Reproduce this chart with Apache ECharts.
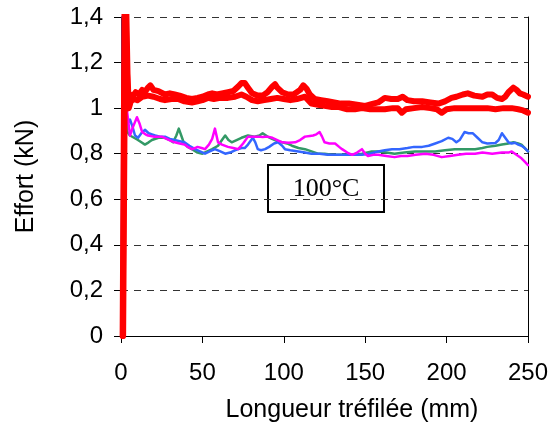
<!DOCTYPE html>
<html>
<head>
<meta charset="utf-8">
<script src="https://cdn.jsdelivr.net/npm/echarts@6/dist/echarts.min.js"></script>
<style>
html,body{margin:0;padding:0;background:#fff;}
#chart{width:556px;height:430px;}
</style>
</head>
<body>
<div id="chart"></div>
<script>
// X ticks and Y tick labels
const xTicks = [0, 50, 100, 150, 200, 250];
const yTickLabels = ['0', '0,2', '0,4', '0,6', '0,8', '1', '1,2', '1,4'];
const annotation = '100°C';

// Series data [longueur (mm), effort (kN)]
const green = [[0.6,0],[1.5,1.6],[3.5,0.9],[5.5,0.88],[8,0.87],[10.4,0.86],[12.5,0.85],[14.7,0.84],[17,0.85],[19,0.86],[23,0.87],[27,0.87],[30,0.86],[32,0.85],[34,0.88],[35.5,0.91],[37,0.88],[38.5,0.85],[41,0.83],[43.6,0.82],[47,0.805],[50,0.80],[53,0.81],[56,0.82],[59.6,0.835],[62,0.86],[64,0.88],[66,0.86],[68,0.85],[71,0.86],[74,0.87],[78,0.88],[82,0.875],[85,0.88],[87,0.89],[90,0.875],[92.8,0.865],[96,0.855],[99,0.85],[102,0.845],[105,0.835],[109,0.825],[113,0.82],[117,0.81],[121,0.80],[125,0.80],[129.6,0.795],[135,0.795],[142,0.795],[148,0.80],[154,0.81],[158,0.81],[163,0.805],[168,0.80],[174,0.805],[180.6,0.81],[187,0.81],[193,0.81],[199,0.815],[205,0.82],[211,0.82],[217.5,0.82],[222,0.825],[225,0.83],[230,0.835],[234,0.84],[238,0.845],[241,0.85],[244,0.845],[246,0.84],[248,0.825],[250,0.81]];

const blue = [[0.3,0],[1.2,1.6],[2.8,1.0],[4,0.93],[5.5,0.95],[7,0.92],[8.6,0.88],[10.5,0.87],[12.5,0.89],[14.7,0.905],[17,0.89],[19,0.885],[21,0.88],[24,0.875],[27,0.875],[30,0.865],[33,0.86],[36,0.855],[39,0.85],[42,0.835],[45.5,0.82],[48.5,0.81],[51.6,0.80],[54.5,0.81],[57.7,0.82],[61,0.81],[64,0.80],[67,0.805],[70,0.815],[72,0.82],[74,0.825],[76,0.825],[78,0.84],[81,0.87],[82.5,0.85],[84,0.82],[86,0.815],[88.5,0.82],[91,0.83],[94,0.845],[96.5,0.85],[99,0.835],[100.7,0.82],[104,0.815],[109,0.81],[113,0.805],[117,0.80],[122,0.80],[127,0.795],[132,0.795],[137.6,0.795],[143,0.795],[148,0.795],[153,0.80],[158,0.81],[162,0.815],[166.5,0.82],[171,0.82],[176,0.825],[180,0.83],[185,0.83],[189,0.835],[193,0.845],[197,0.855],[201,0.87],[203.5,0.865],[206,0.85],[208,0.86],[211,0.895],[213.5,0.89],[216,0.89],[219,0.87],[222,0.85],[225,0.845],[230,0.847],[232,0.86],[234,0.89],[236,0.87],[238,0.85],[240,0.845],[242,0.848],[244,0.84],[246,0.835],[248,0.825],[250,0.81]];

const magenta = [[0.8,0],[2,1.6],[3.5,1.0],[5.5,0.88],[7.5,0.92],[9.8,0.96],[11.5,0.93],[13,0.895],[15,0.885],[16.6,0.88],[20,0.875],[25,0.875],[28,0.865],[31,0.855],[33,0.85],[36,0.845],[39,0.84],[41,0.83],[43.6,0.82],[45.5,0.825],[47,0.83],[49.5,0.825],[51.6,0.82],[54,0.84],[56,0.865],[57.7,0.91],[59.6,0.85],[62,0.84],[65.7,0.83],[69,0.825],[72,0.82],[75,0.845],[78,0.875],[81,0.875],[84,0.875],[87,0.873],[90,0.875],[93,0.87],[96,0.86],[99,0.85],[103,0.848],[107,0.85],[110,0.86],[113,0.875],[116,0.878],[118,0.88],[120,0.885],[122,0.895],[123.5,0.875],[125,0.85],[128,0.845],[131.5,0.845],[134,0.83],[135.8,0.82],[139,0.805],[142,0.795],[145,0.805],[148,0.82],[150,0.80],[151.7,0.79],[155,0.795],[158,0.795],[163,0.79],[168,0.785],[172,0.79],[176,0.79],[181,0.795],[187,0.80],[192,0.795],[197,0.785],[202,0.79],[207,0.795],[212,0.80],[217.5,0.80],[222,0.805],[228,0.80],[234,0.805],[238,0.805],[240,0.81],[242,0.80],[244,0.79],[246,0.78],[248,0.765],[250,0.75]];

const redUpper = [[1,0],[2.3,1.6],[3.5,1.2],[4.3,1.0],[5.5,1.06],[7,1.05],[9,1.07],[11,1.06],[13,1.08],[14.5,1.07],[16.6,1.09],[18,1.10],[20,1.08],[23,1.075],[27,1.06],[30,1.065],[33,1.06],[36,1.055],[40,1.045],[43.6,1.04],[47,1.045],[50,1.05],[53.4,1.06],[56,1.065],[59,1.06],[62,1.065],[65.7,1.07],[69,1.075],[72,1.095],[74,1.11],[76,1.11],[78,1.09],[80.5,1.065],[84,1.055],[87,1.055],[90,1.07],[93,1.095],[94.6,1.105],[96,1.09],[99,1.07],[102.6,1.06],[106,1.06],[110,1.08],[112,1.10],[114,1.085],[116,1.06],[119,1.04],[123,1.035],[127,1.03],[131,1.025],[135,1.02],[140,1.02],[145,1.015],[150,1.01],[155,1.02],[158,1.025],[162,1.045],[166,1.04],[170,1.04],[173,1.05],[176,1.035],[180,1.03],[185,1.03],[190,1.025],[195,1.02],[199,1.03],[203,1.045],[206,1.05],[210,1.06],[213,1.065],[217,1.055],[222,1.05],[225,1.06],[228,1.06],[231,1.045],[234,1.04],[236,1.05],[238,1.07],[241,1.09],[243,1.08],[245,1.065],[247,1.06],[250,1.05]];

const redLower = [[1.3,0],[2.8,1.6],[4,1.15],[4.8,1.0],[6,1.03],[8,1.04],[10,1.035],[13,1.05],[16.6,1.055],[20,1.05],[24,1.04],[27,1.035],[31,1.04],[35,1.04],[39,1.03],[43.6,1.025],[47,1.03],[50,1.035],[53.4,1.045],[57,1.04],[61,1.045],[65.7,1.045],[70,1.05],[74,1.06],[77,1.05],[80.5,1.035],[84,1.03],[88,1.035],[92,1.04],[96,1.045],[100,1.04],[104,1.035],[108,1.04],[113,1.05],[117,1.02],[121,1.015],[125,1.01],[129.6,1.005],[134,1.005],[139,0.995],[143.7,0.995],[148,1.0],[153,0.995],[158,0.995],[162,0.995],[167,1.0],[170,1.0],[172.5,0.98],[175,0.995],[180,1.0],[185,1.005],[190,1.0],[194,0.995],[197,0.98],[200,0.995],[205,1.0],[210,1.0],[215,1.0],[220,1.0],[225,1.0],[230,0.995],[235,1.0],[240,1.0],[244,0.995],[247,0.99],[250,0.98]];

const chart = echarts.init(document.getElementById('chart'), null, {renderer: 'canvas'});
const fontFam = '"Liberation Sans", Arial, sans-serif';

function mk(name, data, color, width) {
  return {
    name: name, type: 'line', data: data, showSymbol: false, symbol: 'none',
    clip: true, animation: false,
    lineStyle: {color: color, width: width, join: 'round', cap: 'round'},
    itemStyle: {color: color}
  };
}

chart.setOption({
  backgroundColor: '#fff',
  animation: false,
  grid: {left: 121, right: 28, top: 17, bottom: 94},
  xAxis: {
    type: 'value', min: xTicks[0], max: xTicks[xTicks.length - 1], interval: 50,
    name: 'Longueur tréfilée (mm)', nameLocation: 'middle', nameGap: 62,
    nameTextStyle: {fontFamily: fontFam, fontSize: 25, color: '#000', padding: [0, 0, 0, 55]},
    axisLine: {lineStyle: {color: '#000', width: 1}},
    axisTick: {show: true, inside: false, length: 7, lineStyle: {color: '#000'}},
    axisLabel: {fontFamily: fontFam, fontSize: 24, color: '#000', margin: 25,
      alignMinLabel: 'center', alignMaxLabel: 'center', showMaxLabel: true, showMinLabel: true},
    splitLine: {show: false}
  },
  yAxis: [{
    type: 'value', min: 0, max: 1.4, interval: 0.2,
    name: 'Effort (kN)', nameLocation: 'middle', nameGap: 82,
    nameTextStyle: {fontFamily: fontFam, fontSize: 25, color: '#000'},
    axisLine: {show: true, lineStyle: {color: '#000', width: 1}},
    axisTick: {show: true, inside: false, length: 7, lineStyle: {color: '#000'}},
    axisLabel: {fontFamily: fontFam, fontSize: 24, color: '#000', margin: 18,
      formatter: function (v) { return yTickLabels[Math.round(v / 0.2)]; }},
    splitLine: {show: true, lineStyle: {color: '#333', width: 1, type: [7, 6]}}
  }, {
    type: 'value', min: 0, max: 1.4, position: 'right',
    axisLine: {show: true, lineStyle: {color: '#000', width: 1}},
    axisTick: {show: false}, axisLabel: {show: false}, splitLine: {show: false}
  }],
  series: [
    mk('Essai 1', green, '#339966', 2.5),
    mk('Essai 2', blue, '#3366FF', 2.5),
    mk('Essai 3', magenta, '#FF00FF', 2.5),
    mk('Essai 4', redUpper, '#FF0000', 6),
    mk('Essai 5', redLower, '#FF0000', 6)
  ],
  graphic: [{
    type: 'group', left: 267, top: 164, z: 100,
    children: [{
      type: 'rect', shape: {x: 0, y: 0, width: 116, height: 47},
      style: {fill: '#fff', stroke: '#000', lineWidth: 2}
    }, {
      type: 'text', x: 58, y: 24,
      style: {text: annotation, font: '26px "Liberation Serif", "Times New Roman", serif',
        fill: '#000', align: 'center', verticalAlign: 'middle'}
    }]
  }]
});
</script>
</body>
</html>
